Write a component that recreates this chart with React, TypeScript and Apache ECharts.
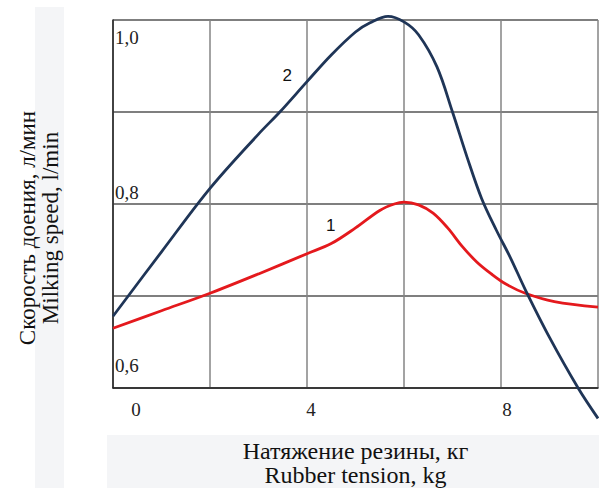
import React, { useEffect, useRef } from "react";
import * as echarts from "echarts";

// Curve 2 (dark blue)
const tension2 = [0, 1, 2, 3, 3.44, 4, 4.5, 5, 5.3, 5.67, 6.0, 6.3, 6.68, 7.0, 7.3, 7.6, 7.9, 8.2, 8.5, 9.0, 9.59, 10];
const speed2 = [0.678, 0.748, 0.817, 0.876, 0.9, 0.933, 0.962, 0.987, 0.997, 1.004, 0.998, 0.984, 0.949, 0.9, 0.851, 0.806, 0.772, 0.741, 0.707, 0.655, 0.6, 0.567];
// Curve 1 (red)
const tension1 = [0, 1, 2, 3, 4, 4.5, 5, 5.5, 5.8, 6.0, 6.3, 6.6, 6.9, 7.2, 7.5, 7.8, 8.1, 8.5, 9.1, 10];
const speed1 = [0.665, 0.684, 0.703, 0.724, 0.746, 0.757, 0.774, 0.793, 0.8, 0.802, 0.799, 0.79, 0.774, 0.754, 0.737, 0.724, 0.713, 0.703, 0.694, 0.688];

const xTickLabels = [0, 4, 8];
const yTickLabels = [0.6, 0.8, 1.0];
const curveNames = ["1", "2"];
const curveLabelPos = [
  [4.49, 0.777],
  [3.59, 0.94],
];
const xTitle = "Натяжение резины, кг\nRubber tension, kg";
const yTitle = "Скорость доения, л/мин\nMilking speed, l/min";

const SERIF = "Liberation Serif";

export default function App() {
  const ref = useRef<HTMLDivElement>(null);
  useEffect(() => {
    if (!ref.current) return;
    const chart = echarts.init(ref.current, null, { renderer: "svg" });
    const near = (a: number, b: number) => Math.abs(a - b) < 1e-6;
    const option: any = {
      animation: false,
      backgroundColor: "#ffffff",
      textStyle: { fontFamily: SERIF },
      grid: { left: 113, top: 20, width: 485, height: 368, containLabel: false, outerBoundsMode: "none" },
      xAxis: {
        type: "value",
        min: 0,
        max: 10,
        interval: 2,
        axisLine: { show: true, onZero: false, lineStyle: { color: "#222", width: 1.5 } },
        axisTick: { show: false },
        splitLine: { show: true, lineStyle: { color: "#858585", width: 1.5 } },
        axisLabel: {
          show: true,
          margin: 12,
          fontFamily: SERIF,
          fontSize: 19,
          color: "#222",
          formatter: (v: number) => {
            const hit = xTickLabels.find((t) => near(t, v));
            if (hit === undefined) return "";
            if (hit === 0) return "{z|" + hit + "}";
            if (hit === 4) return "{f|" + hit + "}";
            if (hit === 8) return "{e|" + hit + "}";
            return String(hit);
          },
          rich: {
            z: { fontFamily: SERIF, fontSize: 19, color: "#222", padding: [0, 0, 0, 46] },
            f: { fontFamily: SERIF, fontSize: 19, color: "#222", padding: [0, 0, 0, 8] },
            e: { fontFamily: SERIF, fontSize: 19, color: "#222", padding: [0, 0, 0, 12] },
          },
        },
        name: xTitle,
        nameLocation: "middle",
        nameGap: 51,
        nameTextStyle: { fontFamily: SERIF, fontSize: 24, color: "#111", lineHeight: 24 },
      },
      yAxis: {
        type: "value",
        min: 0.6,
        max: 1.0,
        interval: 0.1,
        axisLine: { show: true, lineStyle: { color: "#222", width: 1.5 } },
        axisTick: { show: false },
        splitLine: { show: true, lineStyle: { color: "#555", width: 1.5 } },
        axisLabel: {
          show: true,
          inside: true,
          margin: 2,
          fontFamily: SERIF,
          fontSize: 19,
          color: "#222",
          formatter: (v: number) => {
            const hit = yTickLabels.find((t) => near(t, v));
            if (hit === undefined) return "";
            const s = hit.toFixed(1).replace(".", ",");
            if (near(hit, 1.0)) return "{t|" + s + "}";
            if (near(hit, 0.8)) return "{m|" + s + "}";
            return "{b|" + s + "}";
          },
          rich: {
            t: { fontFamily: SERIF, fontSize: 19, color: "#222", padding: [34, 0, 0, 0] },
            m: { fontFamily: SERIF, fontSize: 19, color: "#222", padding: [0, 0, 24, 0] },
            b: { fontFamily: SERIF, fontSize: 19, color: "#222", padding: [0, 0, 46, 0] },
          },
        },
      },
      graphic: [
        { type: "rect", z: -1, shape: { x: 35, y: 7, width: 29, height: 481 }, style: { fill: "#f4f5f7" } },
        { type: "rect", z: -1, shape: { x: 107, y: 435, width: 492, height: 53 }, style: { fill: "#f4f5f7" } },
        {
          type: "text",
          x: 39,
          y: 228,
          rotation: Math.PI / 2,
          style: {
            text: yTitle,
            fontFamily: SERIF,
            fontSize: 23,
            lineHeight: 23,
            fill: "#111",
            align: "center",
            verticalAlign: "middle",
          },
        },
      ],
      series: [
        {
          type: "line",
          name: curveNames[0],
          data: tension1.map((x, i) => [x, speed1[i]]),
          smooth: 0.35,
          showSymbol: false,
          clip: false,
          lineStyle: { color: "#e4191d", width: 2.8 },
          z: 3,
          markPoint: {
            symbol: "circle",
            symbolSize: 0,
            data: [{ coord: curveLabelPos[0], value: curveNames[0] }],
            label: { show: true, position: "inside", formatter: curveNames[0], fontFamily: "Liberation Sans", fontSize: 17, color: "#111" },
          },
        },
        {
          type: "line",
          name: curveNames[1],
          data: tension2.map((x, i) => [x, speed2[i]]),
          smooth: 0.35,
          showSymbol: false,
          clip: false,
          lineStyle: { color: "#1f3557", width: 2.8 },
          z: 4,
          markPoint: {
            symbol: "circle",
            symbolSize: 0,
            data: [{ coord: curveLabelPos[1], value: curveNames[1] }],
            label: { show: true, position: "inside", formatter: curveNames[1], fontFamily: "Liberation Sans", fontSize: 17, color: "#111" },
          },
        },
      ],
    };
    chart.setOption(option);
    return () => chart.dispose();
  }, []);
  return (
    <div
      ref={ref}
      style={{ position: "fixed", left: 0, top: 0, width: 599, height: 488, background: "#fff" }}
    />
  );
}
